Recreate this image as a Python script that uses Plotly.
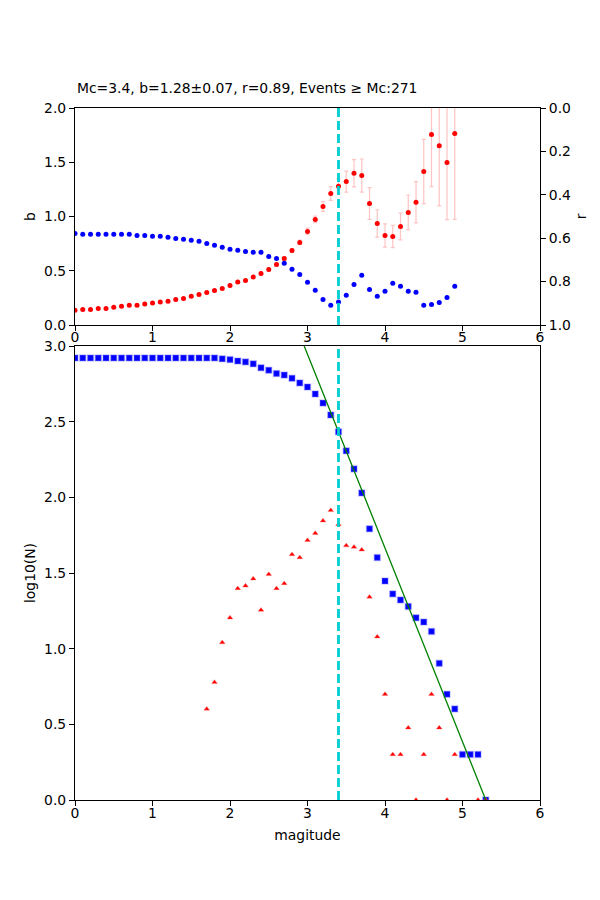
import plotly.graph_objects as go

# --- top panel: b-value and goodness of fit vs. cutoff magnitude ---
mag_top = [0.0, 0.1, 0.2, 0.3, 0.4, 0.5, 0.6, 0.7, 0.8, 0.9,
           1.0, 1.1, 1.2, 1.3, 1.4, 1.5, 1.6, 1.7, 1.8, 1.9,
           2.0, 2.1, 2.2, 2.3, 2.4, 2.5, 2.6, 2.7, 2.8, 2.9,
           3.0, 3.1, 3.2, 3.3, 3.4, 3.5, 3.6, 3.7, 3.8, 3.9,
           4.0, 4.1, 4.2, 4.3, 4.4, 4.5, 4.6, 4.7, 4.8, 4.9]
b_values = [0.135, 0.144, 0.144, 0.153, 0.153, 0.163, 0.172, 0.181, 0.181, 0.193,
            0.202, 0.212, 0.218, 0.236, 0.245, 0.264, 0.282, 0.300, 0.319, 0.337,
            0.365, 0.396, 0.411, 0.442, 0.475, 0.512, 0.558, 0.613, 0.687, 0.761,
            0.862, 0.973, 1.092, 1.212, 1.279, 1.322, 1.399, 1.377, 1.120, 0.936,
            0.825, 0.816, 0.908, 1.037, 1.132, 1.414, 1.755, 1.653, 1.497, 1.764]
b_errors = [0.004, 0.004, 0.004, 0.004, 0.004, 0.004, 0.005, 0.005, 0.005, 0.005,
            0.005, 0.005, 0.006, 0.006, 0.006, 0.007, 0.007, 0.007, 0.008, 0.008,
            0.009, 0.010, 0.010, 0.011, 0.012, 0.013, 0.014, 0.016, 0.018, 0.021,
            0.030, 0.030, 0.045, 0.064, 0.070, 0.097, 0.126, 0.153, 0.147, 0.126,
            0.107, 0.103, 0.124, 0.161, 0.190, 0.296, 0.480, 0.555, 0.525, 0.790]
r_values = [0.578, 0.582, 0.582, 0.582, 0.582, 0.582, 0.582, 0.582, 0.587, 0.587,
            0.591, 0.591, 0.596, 0.601, 0.605, 0.610, 0.614, 0.624, 0.633, 0.642,
            0.651, 0.656, 0.661, 0.665, 0.665, 0.684, 0.693, 0.716, 0.743, 0.767,
            0.803, 0.840, 0.882, 0.909, 0.894, 0.863, 0.813, 0.771, 0.836, 0.868,
            0.845, 0.808, 0.822, 0.845, 0.849, 0.909, 0.905, 0.896, 0.873, 0.822]

# --- bottom panel: frequency-magnitude distribution ---
mag_cum = [0.0, 0.1, 0.2, 0.3, 0.4, 0.5, 0.6, 0.7, 0.8, 0.9,
           1.0, 1.1, 1.2, 1.3, 1.4, 1.5, 1.6, 1.7, 1.8, 1.9,
           2.0, 2.1, 2.2, 2.3, 2.4, 2.5, 2.6, 2.7, 2.8, 2.9,
           3.0, 3.1, 3.2, 3.3, 3.4, 3.5, 3.6, 3.7, 3.8, 3.9,
           4.0, 4.1, 4.2, 4.3, 4.4, 4.5, 4.6, 4.7, 4.8, 4.9,
           5.0, 5.1, 5.2, 5.3]
log_cum = [2.921, 2.921, 2.921, 2.921, 2.921, 2.921, 2.921, 2.921, 2.921, 2.921,
           2.921, 2.921, 2.921, 2.921, 2.921, 2.921, 2.921, 2.921, 2.921, 2.915,
           2.910, 2.901, 2.895, 2.882, 2.856, 2.840, 2.818, 2.808, 2.787, 2.756,
           2.729, 2.683, 2.623, 2.544, 2.433, 2.307, 2.188, 2.029, 1.792, 1.602,
           1.447, 1.362, 1.322, 1.279, 1.204, 1.176, 1.114, 0.903, 0.699, 0.602,
           0.301, 0.301, 0.301, 0.0]
mag_inc = [1.7, 1.8, 1.9, 2.0, 2.1, 2.2, 2.3, 2.4, 2.5, 2.6,
           2.7, 2.8, 2.9, 3.0, 3.1, 3.2, 3.3, 3.4, 3.5, 3.6,
           3.7, 3.8, 3.9, 4.0, 4.1, 4.2, 4.3, 4.4, 4.5, 4.6,
           4.7, 4.8, 4.9, 5.2, 5.3]
log_inc = [0.602, 0.778, 1.041, 1.204, 1.398, 1.415, 1.462, 1.255, 1.491, 1.398,
           1.431, 1.623, 1.602, 1.716, 1.763, 1.845, 1.914, 1.820, 1.681, 1.672,
           1.653, 1.342, 1.079, 0.699, 0.301, 0.301, 0.477, 0.0, 0.301, 0.699,
           0.477, 0.0, 0.301, 0.0, 0.0]

mc = 3.4
fit_a = 6.785
fit_b = 1.28
n_above_mc = 271
r_at_mc = 0.89
b_err_at_mc = 0.07
fit_x = [0.0, 6.0]

FONT = "DejaVu Sans"
FS = 13.9

fig = go.Figure()

fig.add_trace(go.Scatter(
    x=mag_top, y=b_values, mode="markers",
    marker=dict(color="red", size=5),
    error_y=dict(type="data", array=b_errors, color="#ffc4c4", thickness=1.2, width=2),
    xaxis="x", yaxis="y", showlegend=False,
))
fig.add_trace(go.Scatter(
    x=mag_top, y=r_values, mode="markers",
    marker=dict(color="blue", size=5),
    xaxis="x", yaxis="y2", showlegend=False,
))

fig.add_trace(go.Scatter(
    x=mag_cum, y=log_cum, mode="markers",
    marker=dict(color="blue", size=6, symbol="square",
                line=dict(color="rgba(120,120,255,0.35)", width=1.5)),
    xaxis="x2", yaxis="y3", showlegend=False,
))
fig.add_trace(go.Scatter(
    x=mag_inc, y=log_inc, mode="markers",
    marker=dict(color="red", size=5, symbol="triangle-up",
                line=dict(color="rgba(255,110,110,0.35)", width=1)),
    xaxis="x2", yaxis="y3", showlegend=False,
))
fig.add_trace(go.Scatter(
    x=fit_x, y=[fit_a - fit_b * m for m in fit_x], mode="lines",
    line=dict(color="green", width=1.3),
    xaxis="x2", yaxis="y3", showlegend=False,
))

for xref, yref in (("x", "y domain"), ("x2", "y3 domain")):
    fig.add_shape(type="line", xref=xref, yref=yref, x0=mc, x1=mc, y0=0, y1=1,
                  line=dict(color="#00CED1", width=2.8, dash="9px,4px"))

axis_common = dict(showline=True, linecolor="black", linewidth=1.1, ticks="outside",
                   ticklen=5, tickwidth=1.1, tickcolor="black", showgrid=False,
                   zeroline=False, automargin=False,
                   tickfont=dict(family=FONT, size=FS, color="black"))

# the page body adds an 8px offset, so the margins are shifted to compensate
top_dom = [(792 - 317) / 692, 1.0]
bot_dom = [0.0, (792 - 338) / 692]

fig.update_layout(
    width=600, height=900,
    margin=dict(l=67, r=68, t=100, b=108),
    paper_bgcolor="white", plot_bgcolor="white",
    font=dict(family=FONT, size=FS, color="black"),
    xaxis=dict(domain=[0, 1], range=[0, 6], dtick=1, anchor="y", mirror=True,
               ticklabelstandoff=-6, **axis_common),
    yaxis=dict(domain=top_dom, range=[0, 2], dtick=0.5, tickformat=".1f", mirror=True,
               title=dict(text="b", standoff=5, font=dict(family=FONT, size=FS)), **axis_common),
    yaxis2=dict(overlaying="y", side="right", range=[1, 0], dtick=0.2, tickformat=".1f",
                anchor="x", title=dict(text="r", standoff=6, font=dict(family=FONT, size=FS)),
                **axis_common),
    xaxis2=dict(domain=[0, 1], range=[0, 6], dtick=1, anchor="y3", mirror=True,
                ticklabelstandoff=-5,
                title=dict(text="magitude", standoff=10, font=dict(family=FONT, size=FS)),
                **axis_common),
    yaxis3=dict(domain=bot_dom, range=[0, 3], dtick=0.5, tickformat=".1f", anchor="x2",
                mirror=True,
                title=dict(text="log10(N)", standoff=5, font=dict(family=FONT, size=FS)),
                **axis_common),
    annotations=[dict(
        text=f"Mc={mc}, b={fit_b:.2f}±{b_err_at_mc:.2f}, r={r_at_mc:.2f}, Events ≥ Mc:{n_above_mc}",
        xref="paper", yref="paper", x=0, y=1, xanchor="left", yanchor="bottom",
        yshift=10, showarrow=False, font=dict(family=FONT, size=FS, color="black"),
    )],
)

fig.write_html("out.html")
